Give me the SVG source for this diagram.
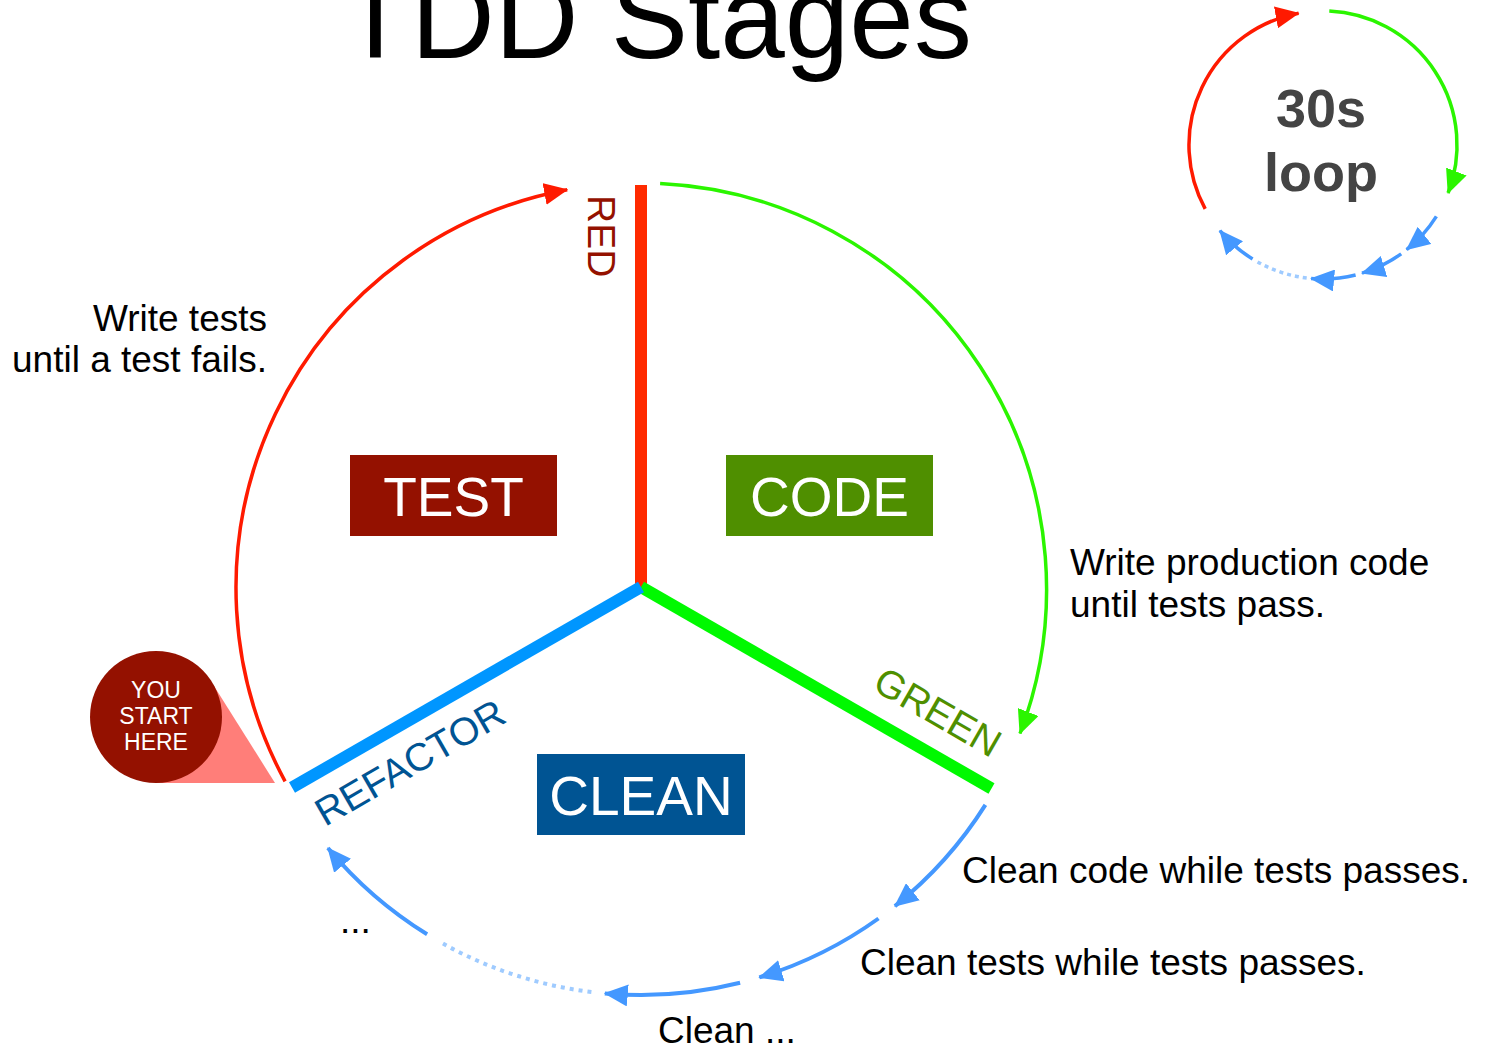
<svg xmlns="http://www.w3.org/2000/svg" width="1488" height="1049" viewBox="0 0 1488 1049">
<style>
text{font-family:"Liberation Sans",Arial,sans-serif}
.lbl{font-size:37px;fill:#000}
.box{font-size:55px;fill:#fff;text-anchor:middle}
.spoke{font-size:39px}
.arc{fill:none}
.r{stroke:#ff1a00;stroke-width:3.5}
.g{stroke:#2bf500;stroke-width:3.5}
.b{stroke:#4498ff;stroke-width:4}
.d{stroke:#9fcbff;stroke-width:4;stroke-dasharray:4 5}
.sr{stroke:#ff1a00;stroke-width:3.5}
.sg{stroke:#2bf500;stroke-width:3.5}
.sb{stroke:#4498ff;stroke-width:3.5}
.sd{stroke:#9fcbff;stroke-width:3.5;stroke-dasharray:4 4}
</style>
<defs>
<marker id="ar" markerUnits="userSpaceOnUse" markerWidth="24" markerHeight="22" viewBox="0 0 24 22" refX="23" refY="11" orient="auto"><path d="M0,0 L24,11 L0,22 z" fill="#ff1a00"/></marker>
<marker id="ag" markerUnits="userSpaceOnUse" markerWidth="24" markerHeight="22" viewBox="0 0 24 22" refX="23" refY="11" orient="auto"><path d="M0,0 L24,11 L0,22 z" fill="#2bf500"/></marker>
<marker id="ab" markerUnits="userSpaceOnUse" markerWidth="24" markerHeight="22" viewBox="0 0 24 22" refX="23" refY="11" orient="auto"><path d="M0,0 L24,11 L0,22 z" fill="#4498ff"/></marker>
</defs>

<g id="title"><text x="656" y="58" font-size="116" text-anchor="middle" fill="#000">TDD Stages</text></g>

<g id="spokes">
<line x1="641" y1="185" x2="641" y2="589" stroke="#ff2a00" stroke-width="12"/>
<line x1="641" y1="587" x2="991.5" y2="788.5" stroke="#00f900" stroke-width="12"/>
<line x1="641" y1="587" x2="292" y2="787.5" stroke="#0096ff" stroke-width="12"/>
</g>

<g id="connectors">
<path class="arc r" d="M285.1,781.3 A405,405 0 0 1 567.2,189.8" marker-end="url(#ar)"/>
<path class="arc g" d="M660.1,183.5 A406,406 0 0 1 1020,733.5" marker-end="url(#ag)"/>
<path class="arc b" d="M985.4,804.9 A407,407 0 0 1 894.9,906.1" marker-end="url(#ab)"/>
<path class="arc b" d="M878.5,918.5 A407,407 0 0 1 759.3,977.4" marker-end="url(#ab)"/>
<path class="arc b" d="M740.1,982.8 A407,407 0 0 1 604.8,993.4" marker-end="url(#ab)"/>
<path class="arc d" d="M591.4,992 A407,407 0 0 1 441.2,942.6"/>
<path class="arc b" d="M427.1,934.3 A407,407 0 0 1 327.9,848" marker-end="url(#ab)"/>
</g>

<g id="loop30s">
<path class="arc sr" d="M1205.2,208.9 A134,134 0 0 1 1298.6,13.2" marker-end="url(#ar)"/>
<path class="arc sg" d="M1329.3,11.1 A134,134 0 0 1 1448.1,193" marker-end="url(#ag)"/>
<path class="arc sb" d="M1436.4,216.4 A134,134 0 0 1 1406.6,249.7" marker-end="url(#ab)"/>
<path class="arc sb" d="M1401.2,253.8 A134,134 0 0 1 1362,273.2" marker-end="url(#ab)"/>
<path class="arc sb" d="M1355.6,275 A134,134 0 0 1 1311.1,278.5" marker-end="url(#ab)"/>
<path class="arc sd" d="M1306.7,278 A134,134 0 0 1 1257.2,261.7"/>
<path class="arc sb" d="M1252.6,259 A134,134 0 0 1 1219.9,230.6" marker-end="url(#ab)"/>
<text x="1321" y="127" font-size="54" font-weight="bold" fill="#444" text-anchor="middle">30s</text>
<text x="1321" y="191" font-size="54" font-weight="bold" fill="#444" text-anchor="middle">loop</text>
</g>

<g id="test"><rect x="350" y="455" width="207" height="81" fill="#941100"/><text class="box" x="453.5" y="516">TEST</text></g>
<g id="code"><rect x="726" y="455" width="207" height="81" fill="#4f8f00"/><text class="box" x="829.5" y="516">CODE</text></g>
<g id="clean"><rect x="537" y="754" width="208" height="81" fill="#005493"/><text class="box" x="641" y="815">CLEAN</text></g>

<g id="red-label"><text class="spoke" fill="#941100" transform="translate(588,195) rotate(90)">RED</text></g>
<g id="green-label"><text class="spoke" fill="#4f8f00" transform="translate(871,689) rotate(30)">GREEN</text></g>
<g id="refactor-label"><text class="spoke" fill="#005493" transform="translate(325,827) rotate(-30)">REFACTOR</text></g>

<g id="you-start-here">
<polygon points="156,717 214,686 275,783 156,783" fill="#ff7e79"/>
<circle cx="156" cy="717" r="66" fill="#941100"/>
<text x="156" y="698" font-size="23" fill="#fff" text-anchor="middle">YOU</text>
<text x="156" y="724" font-size="23" fill="#fff" text-anchor="middle">START</text>
<text x="156" y="750" font-size="23" fill="#fff" text-anchor="middle">HERE</text>
</g>

<g id="notes">
<text class="lbl" x="267" y="331" text-anchor="end">Write tests</text>
<text class="lbl" x="267" y="372" text-anchor="end">until a test fails.</text>
<text class="lbl" x="1070" y="575">Write production code</text>
<text class="lbl" x="1070" y="617">until tests pass.</text>
<text class="lbl" x="962" y="883">Clean code while tests passes.</text>
<text class="lbl" x="860" y="975">Clean tests while tests passes.</text>
<text class="lbl" x="658" y="1043">Clean ...</text>
<text class="lbl" x="340" y="933">...</text>
</g>
</svg>
